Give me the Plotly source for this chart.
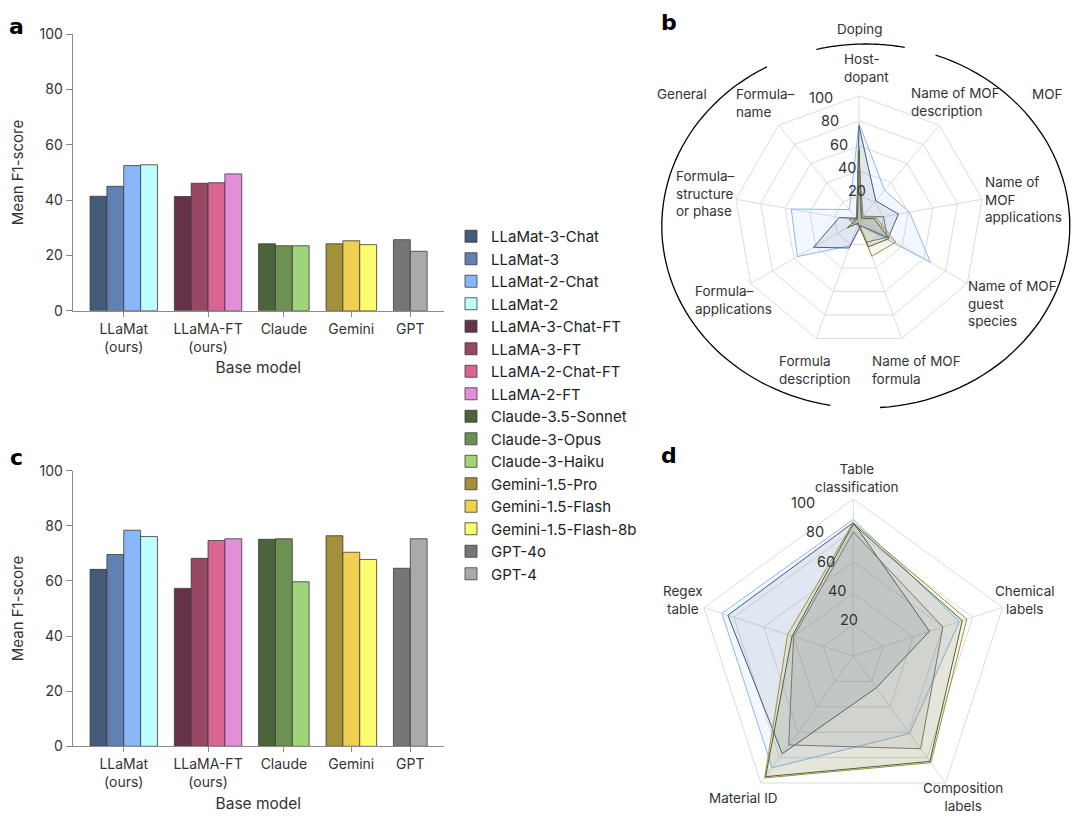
import plotly.graph_objects as go
import math

# ---------------- data ----------------
models = ["LLaMat-3-Chat", "LLaMat-3", "LLaMat-2-Chat", "LLaMat-2",
          "LLaMA-3-Chat-FT", "LLaMA-3-FT", "LLaMA-2-Chat-FT", "LLaMA-2-FT",
          "Claude-3.5-Sonnet", "Claude-3-Opus", "Claude-3-Haiku",
          "Gemini-1.5-Pro", "Gemini-1.5-Flash", "Gemini-1.5-Flash-8b",
          "GPT-4o", "GPT-4"]
colors = ["#445a7a", "#6181b0", "#88b8fa", "#bffcfc",
          "#673249", "#964865", "#da6493", "#e28fd8",
          "#4b643a", "#6d9152", "#a0d478",
          "#a48f3b", "#f0d050", "#fdfd72",
          "#767676", "#aaaaaa"]
groups = ["LLaMat<br>(ours)", "LLaMA-FT<br>(ours)", "Claude", "Gemini", "GPT"]
group_sizes = [4, 4, 3, 3, 2]

f1_a = [41.4, 45.0, 52.5, 52.8, 41.3, 46.1, 46.3, 49.5,
        24.2, 23.5, 23.5, 24.2, 25.3, 23.9, 25.7, 21.5]
f1_c = [64.2, 69.6, 78.4, 76.1, 57.3, 68.2, 74.7, 75.3,
        75.1, 75.3, 59.7, 76.4, 70.4, 67.8, 64.6, 75.3]

radar_models = ["LLaMat-2-Chat", "LLaMat-3-Chat", "Gemini-1.5-Pro", "Claude-3.5-Sonnet", "GPT-4o"]

cats_b = ["Host-dopant", "Name of MOF description", "Name of MOF applications",
          "Name of MOF guest species", "Name of MOF formula", "Formula description",
          "Formula-applications", "Formula-structure or phase", "Formula-name"]
b_llamat2chat = [78, 32, 41, 66, 4, 21, 57, 55, 12]
b_llamat3chat = [76, 21, 32, 27, 4, 23, 42, 16, 3]
b_gemini_pro = [60, 3, 14, 34, 30, 2, 3, 5, 2]
b_claude_sonnet = [57, 3, 12, 28, 22, 2, 11, 3, 2]
b_gpt4o = [47, 5, 20, 26, 18, 3, 5, 8, 3]

cats_d = ["Table classification", "Chemical labels", "Composition labels", "Material ID", "Regex table"]
d_llamat2chat = [87, 71, 61, 88, 88]
d_llamat3chat = [85, 51, 25, 77, 84]
d_gemini_pro = [85, 76, 84, 96, 44]
d_claude_sonnet = [84, 73, 83, 95, 41]
d_gpt4o = [79, 60, 73, 70, 40]

radial_ticks = [20, 40, 60, 80, 100]

# ---------------- layout helpers ----------------
OFF = 8                      # page body margin
W, H = 1080 - 2 * OFF, 821 - 2 * OFF
FONT = "Inter"
TXT = "#333333"


def px(x):
    return (x - OFF) / W


def py(y):
    return 1 - (y - OFF) / H


# bar positions: groups separated by one empty slot
xpos, tickpos = [], []
p = 0
for g in group_sizes:
    members = list(range(p, p + g))
    xpos += members
    tickpos.append(sum(members) / g)
    p += g + 1

fig = go.Figure()

for i, m in enumerate(models):
    fig.add_trace(go.Bar(x=[xpos[i]], y=[f1_a[i]], width=1, name=m, legendgroup=m,
                         marker=dict(color=colors[i], line=dict(color="#3a3a3a", width=0.8)),
                         xaxis="x", yaxis="y", showlegend=True))
for i, m in enumerate(models):
    fig.add_trace(go.Bar(x=[xpos[i]], y=[f1_c[i]], width=1, name=m, legendgroup=m,
                         marker=dict(color=colors[i], line=dict(color="#3a3a3a", width=0.8)),
                         xaxis="x2", yaxis="y2", showlegend=False))


def rgba(hexc, a):
    h = hexc.lstrip("#")
    return "rgba(%d,%d,%d,%.2f)" % (int(h[0:2], 16), int(h[2:4], 16), int(h[4:6], 16), a)


b_series = [b_llamat2chat, b_llamat3chat, b_gemini_pro, b_claude_sonnet, b_gpt4o]
d_series = [d_llamat2chat, d_llamat3chat, d_gemini_pro, d_claude_sonnet, d_gpt4o]
for name, vals in zip(radar_models, b_series):
    c = colors[models.index(name)]
    fig.add_trace(go.Scatterpolar(r=vals + vals[:1], theta=cats_b + cats_b[:1], subplot="polar",
                                  mode="lines", fill="toself", fillcolor=rgba(c, 0.10),
                                  line=dict(color=c, width=1), name=name, showlegend=False))
for name, vals in zip(radar_models, d_series):
    c = colors[models.index(name)]
    fig.add_trace(go.Scatterpolar(r=vals + vals[:1], theta=cats_d + cats_d[:1], subplot="polar2",
                                  mode="lines", fill="toself", fillcolor=rgba(c, 0.10),
                                  line=dict(color=c, width=1), name=name, showlegend=False))

xr = [-1.53, xpos[-1] + 1.5]
axis_common_x = dict(range=xr, tickvals=tickpos, ticktext=groups, showline=True, linecolor="#8c8c8c",
                     linewidth=1.2, ticks="outside", ticklen=5, tickcolor="#8c8c8c", showgrid=False,
                     zeroline=False, automargin=False, tickfont=dict(size=14, color=TXT, family=FONT),
                     title=dict(text="Base model", font=dict(size=15.5, color=TXT, family=FONT), standoff=8))
axis_common_y = dict(range=[0, 100], tickvals=[0, 20, 40, 60, 80, 100], showline=True, linecolor="#8c8c8c",
                     linewidth=1.2, ticks="outside", ticklen=6, tickcolor="#8c8c8c", showgrid=False,
                     zeroline=False, automargin=False, tickfont=dict(size=14, color=TXT, family=FONT),
                     title=dict(text="Mean F1-score", font=dict(size=15, color=TXT, family=FONT), standoff=12))

# polar geometry (pixel centers / radii)
cb, Rb = (859, 221), 125
cd, Rd = (853.3, 656), 157

polar_common = dict(
    bgcolor="white", gridshape="linear",
    radialaxis=dict(range=[0, 100], tickvals=radial_ticks, showline=False, gridcolor="#dcdcdc",
                    gridwidth=1, ticks="", showticklabels=False),
    angularaxis=dict(rotation=90, direction="clockwise", showticklabels=False, ticks="",
                     gridcolor="#dcdcdc", linecolor="#dcdcdc", showline=True),
)

fig.update_layout(
    template="none",
    width=W, height=H, margin=dict(l=0, r=0, t=0, b=0, autoexpand=False),
    paper_bgcolor="white", plot_bgcolor="white",
    font=dict(family=FONT, color=TXT),
    barmode="overlay",
    xaxis=dict(domain=[px(72.7), px(444)], anchor="y", **axis_common_x),
    yaxis=dict(domain=[py(310.7), py(34.3)], anchor="x", **axis_common_y),
    xaxis2=dict(domain=[px(72.7), px(444)], anchor="y2", **axis_common_x),
    yaxis2=dict(domain=[py(746.3), py(470.7)], anchor="x2", **axis_common_y),
    polar=dict(domain=dict(x=[px(cb[0] - Rb), px(cb[0] + Rb)], y=[py(cb[1] + Rb), py(cb[1] - Rb)]),
               **polar_common),
    polar2=dict(domain=dict(x=[px(cd[0] - Rd), px(cd[0] + Rd)], y=[py(cd[1] + Rd), py(cd[1] - Rd)]),
                **polar_common),
    legend=dict(x=px(451), y=py(220), xanchor="left", yanchor="top", traceorder="normal",
                font=dict(size=15, color="#222", family=FONT), itemwidth=30, tracegroupgap=1.5,
                bgcolor="rgba(0,0,0,0)"),
)


def ann(text, x, y, size=13.5, align="center", family=FONT, color=TXT):
    return dict(text=text, x=px(x), y=py(y), xref="paper", yref="paper", showarrow=False,
                xanchor="center", yanchor="middle", align=align,
                font=dict(size=size, color=color, family=family))


annotations = []
for letter, (x, y) in zip("abcd", [(16, 26), (669, 22), (16, 458), (669, 455)]):
    annotations.append(ann("<b>%s</b>" % letter, x, y, size=22, family="DejaVu Sans", color="black"))

# radial tick labels of both radar panels, placed along a slanted line at each tick value
LABEL_ANGLE = math.radians(111.3)
for (cx, cy), R in [(cb, Rb), (cd, Rd)]:
    for v in radial_ticks:
        lx = cx + v / 100 * R * math.cos(LABEL_ANGLE) + 7
        ly = cy - v / 100 * R * math.sin(LABEL_ANGLE) - 7
        annotations.append(ann(str(v), lx, ly, size=14.5))

labels_b = [("Host-<br>dopant", 866, 68), ("Name of MOF<br>description", 955, 102),
            ("Name of<br>MOF<br>applications", 1023, 199), ("Name of MOF<br>guest<br>species", 1012, 303),
            ("Name of MOF<br>formula", 916, 370), ("Formula<br>description", 815, 370),
            ("Formula–<br>applications", 733, 300), ("Formula–<br>structure<br>or phase", 705, 193),
            ("Formula–<br>name", 765, 103)]
for t, x, y in labels_b:
    annotations.append(ann(t, x, y, align="left"))

labels_d = [("Table<br>classification", 857, 478), ("Chemical<br>labels", 1025, 600),
            ("Composition<br>labels", 963, 797), ("Material ID", 743, 798), ("Regex<br>table", 683, 600)]
for t, x, y in labels_d:
    annotations.append(ann(t, x, y, align="center"))

for t, x, y in [("Doping", 860, 29), ("General", 682, 94), ("MOF", 1047, 94)]:
    annotations.append(ann(t, x, y))
fig.update_layout(annotations=annotations)

# outer category arcs around panel b
ecx, ecy, erx, ery = 865.8, 226, 204, 182


def arc_path(t0, t1, n=60):
    pts = []
    for k in range(n + 1):
        t = math.radians(t0 + (t1 - t0) * k / n)
        X = ecx + erx * math.cos(t)
        Yp = ecy - ery * math.sin(t)
        pts.append("%s%.4f,%.4f" % ("M" if k == 0 else "L", px(X), py(Yp)))
    return " ".join(pts)


shapes = []
for t0, t1 in [(79, 104), (119, 260), (-86, 70)]:
    shapes.append(dict(type="path", path=arc_path(t0, t1), xref="paper", yref="paper",
                       line=dict(color="black", width=1.3)))
fig.update_layout(shapes=shapes)

fig.write_html("out.html")
